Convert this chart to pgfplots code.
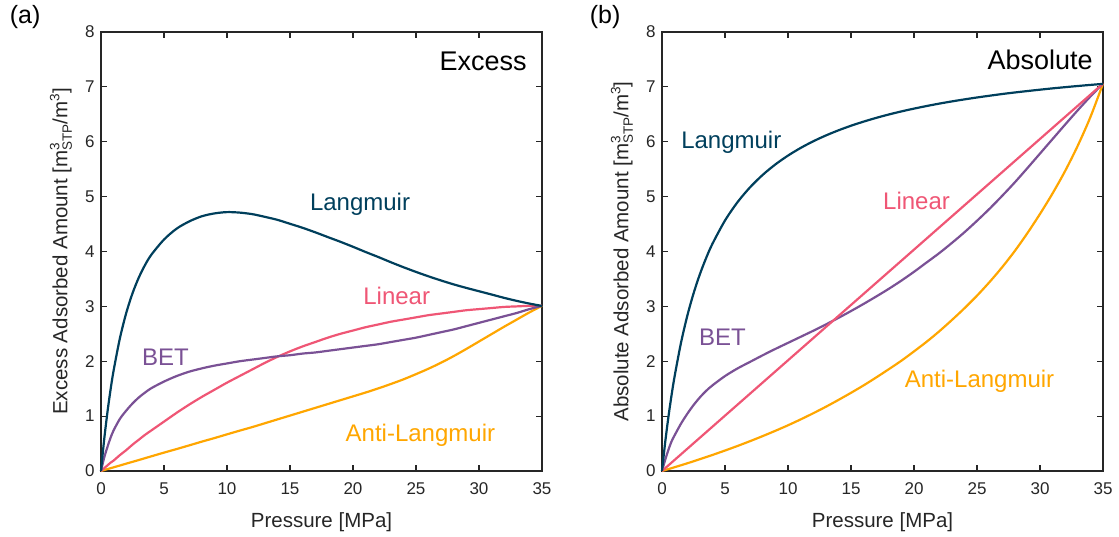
\documentclass[border=0pt]{standalone}
\usepackage{fontspec}
\setmainfont{Liberation Sans}
\usepackage{pgfplots}
\usepackage{pgfplotstable}
\pgfplotsset{compat=1.18}

\definecolor{cLang}{HTML}{003F5C}
\definecolor{cBET}{HTML}{7A5195}
\definecolor{cLin}{HTML}{EF5675}
\definecolor{cAnti}{HTML}{FFA600}
\definecolor{axisgray}{HTML}{262626}

% Excess isotherms (pressure in MPa, amount in m3_STP/m3)
\pgfplotstableread{
P     Lang   BET   Lin   Anti
0     0      0     0     0
0.25  0.568  0.24  0.05  0.017
0.5   1.052  0.43  0.10  0.034
0.75  1.469  0.60  0.15  0.050
1     1.829  0.74  0.19  0.067
1.5   2.419  0.95  0.29  0.100
2     2.877  1.10  0.38  0.134
2.5   3.238  1.23  0.48  0.167
3     3.525  1.34  0.57  0.200
3.5   3.756  1.43  0.66  0.234
4     3.942  1.51  0.74  0.268
5     4.218  1.63  0.90  0.335
6     4.416  1.73  1.06  0.400
7     4.548  1.81  1.21  0.467
8     4.642  1.87  1.35  0.535
9     4.694  1.92  1.48  0.600
10    4.718  1.96  1.61  0.668
11    4.709  2.00  1.73  0.735
12    4.681  2.03  1.85  0.800
13    4.632  2.06  1.97  0.870
14    4.577  2.09  2.08  0.940
15    4.505  2.11  2.18  1.010
16    4.432  2.14  2.27  1.080
17    4.350  2.16  2.35  1.150
18    4.263  2.19  2.43  1.220
19    4.177  2.22  2.50  1.290
20    4.086  2.25  2.56  1.360
21    3.991  2.28  2.62  1.430
22    3.900  2.31  2.67  1.505
23    3.805  2.35  2.72  1.585
24    3.714  2.39  2.76  1.670
25    3.628  2.43  2.80  1.765
26    3.547  2.48  2.84  1.865
27    3.471  2.53  2.87  1.975
28    3.400  2.58  2.90  2.095
29    3.336  2.64  2.93  2.225
30    3.276  2.70  2.95  2.360
31    3.216  2.76  2.97  2.495
32    3.155  2.82  2.99  2.630
33    3.100  2.88  3.00  2.760
34    3.051  2.95  3.01  2.890
35    3.008  3.01  3.01  3.010
}\excess

% Absolute isotherms
\pgfplotstableread{
P     Lang   BET    Anti
0     0      0      0
0.25  0.517  0.20   0.017
0.5   0.970  0.38   0.034
0.75  1.369  0.535  0.051
1     1.724  0.65   0.069
1.5   2.328  0.86   0.104
2     2.822  1.04   0.140
2.5   3.233  1.20   0.177
3     3.582  1.34   0.215
3.5   3.880  1.46   0.253
4     4.139  1.56   0.292
5     4.565  1.73   0.373
6     4.901  1.87   0.457
7     5.173  1.99   0.545
8     5.398  2.11   0.637
9     5.587  2.225  0.733
10    5.748  2.335  0.833
11    5.887  2.445  0.940
12    6.008  2.555  1.052
13    6.114  2.67   1.170
14    6.208  2.79   1.295
15    6.292  2.915  1.425
16    6.367  3.045  1.560
17    6.435  3.18   1.705
18    6.497  3.32   1.855
19    6.553  3.47   2.010
20    6.604  3.63   2.180
21    6.651  3.80   2.355
22    6.695  3.97   2.545
23    6.735  4.155  2.750
24    6.772  4.35   2.965
25    6.807  4.56   3.195
26    6.839  4.78   3.445
27    6.870  5.015  3.715
28    6.898  5.26   4.010
29    6.924  5.52   4.335
30    6.949  5.785  4.685
31    6.973  6.05   5.060
32    6.995  6.315  5.470
33    7.016  6.575  5.930
34    7.036  6.825  6.450
35    7.055  7.06   7.060
}\absolute

\tikzset{clab/.style={font=\fontsize{24}{24}\selectfont, anchor=base}}

% m^3_STP / m^3 with sub- and superscripts stacked
\newcommand{\sss}[1]{{\fontsize{13.5}{14}\selectfont #1}}
\newcommand{\unitlabel}{m\rlap{\raisebox{8pt}{\sss{3}}}\raisebox{-4.5pt}{\sss{STP}}/m\raisebox{8pt}{\sss{3}}}

\pgfplotsset{
  iso/.style={
    width=441pt, height=439pt, scale only axis,
    xmin=0, xmax=35, ymin=0, ymax=8,
    xtick={0,5,...,35}, ytick={0,1,...,8},
    tick align=inside, major tick length=6pt,
    axis line style={line width=1.4pt, color=axisgray},
    every tick/.style={line width=1.2pt, color=axisgray},
    tick label style={font=\fontsize{17}{17}\selectfont, text=axisgray},
    xticklabel style={yshift=-8pt},
    yticklabel style={xshift=-3pt},
    /pgf/number format/assume math mode=true,
    label style={font=\fontsize{20.5}{22}\selectfont, text=axisgray},
    xlabel style={at={(rel axis cs:0.5,-0.1276)}, anchor=base},
    ylabel style={at={(rel axis cs:-0.076,0.5)}, anchor=base},
    every axis plot/.append style={line width=2.2pt, smooth, tension=0.5, no marks},
    clip=false,
  },
}

\begin{document}
\begin{tikzpicture}
\useasboundingbox (-101pt,-65pt) rectangle (1018pt,471pt);

% (a) excess adsorption
\begin{axis}[iso, at={(0pt,0pt)}, anchor=south west,
  xlabel={Pressure [MPa]},
  ylabel={Excess Adsorbed Amount [\unitlabel]}]
  \addplot[cAnti] table[x=P, y=Anti] {\excess};
  \addplot[cLin]  table[x=P, y=Lin]  {\excess};
  \addplot[cBET]  table[x=P, y=BET]  {\excess};
  \addplot[cLang] table[x=P, y=Lang] {\excess};
  \node[clab, text=cLang] at (axis cs:20.56,4.75) {Langmuir};
  \node[clab, text=cLin]  at (axis cs:23.47,3.04) {Linear};
  \node[clab, text=cBET]  at (axis cs:5.12,1.93) {BET};
  \node[clab, text=cAnti] at (axis cs:25.35,0.546) {Anti-Langmuir};
  \node[font=\fontsize{27}{27}\selectfont, anchor=base east, inner sep=0pt] at (axis cs:33.8,7.30) {Excess};
  \node[font=\fontsize{25}{25}\selectfont] at (rel axis cs:-0.172,1.035) {(a)};
\end{axis}

% (b) absolute adsorption
\begin{axis}[iso, at={(561pt,0pt)}, anchor=south west,
  xlabel={Pressure [MPa]},
  ylabel={Absolute Adsorbed Amount [\unitlabel]}]
  \addplot[cAnti] table[x=P, y=Anti] {\absolute};
  \addplot[cBET]  table[x=P, y=BET]  {\absolute};
  \addplot[cLin, sharp plot] coordinates {(0,0) (35,7.06)};
  \addplot[cLang] table[x=P, y=Lang] {\absolute};
  \node[clab, text=cLang] at (axis cs:5.50,5.88) {Langmuir};
  \node[clab, text=cLin]  at (axis cs:20.2,4.77) {Linear};
  \node[clab, text=cBET]  at (axis cs:4.79,2.28) {BET};
  \node[clab, text=cAnti] at (axis cs:25.2,1.525) {Anti-Langmuir};
  \node[font=\fontsize{27}{27}\selectfont, anchor=base east, inner sep=0pt] at (axis cs:34.2,7.32) {Absolute};
  \node[font=\fontsize{25}{25}\selectfont] at (rel axis cs:-0.129,1.035) {(b)};
\end{axis}
\end{tikzpicture}
\end{document}
